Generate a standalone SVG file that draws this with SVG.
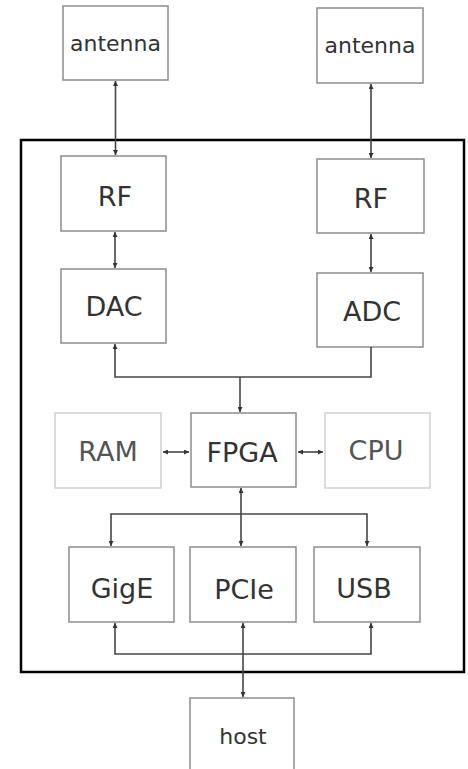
<svg xmlns="http://www.w3.org/2000/svg" width="468" height="769" viewBox="0 0 468 769">
<style>
.box{fill:#fff;stroke:#8c8c8c;stroke-width:1.5}
.lbox{fill:#fff;stroke:#cfcfcf;stroke-width:1.5}
.t{font-family:"DejaVu Sans",Verdana,sans-serif;font-size:27px;fill:#333;text-anchor:middle}
.ts{font-family:"DejaVu Sans",Verdana,sans-serif;font-size:22px;fill:#333;text-anchor:middle}
.tl{fill:#555}
.c{fill:none;stroke:#454545;stroke-width:1.6}
</style>
<defs>
<marker id="ah" viewBox="0 0 6 6" refX="6" refY="3" markerWidth="5" markerHeight="5" markerUnits="userSpaceOnUse" orient="auto-start-reverse">
<path d="M0,0 L6,3 L0,6 z" fill="#333"/>
</marker>
</defs>
<rect x="21" y="140" width="443" height="532" fill="none" stroke="#000" stroke-width="2.5"/>
<g id="antenna1"><rect class="box" x="63" y="6" width="105" height="74"/><text class="ts" x="115.5" y="51">antenna</text></g>
<g id="antenna2"><rect class="box" x="317" y="8" width="106" height="75"/><text class="ts" x="370" y="53">antenna</text></g>
<g id="rf1"><rect class="box" x="61" y="156" width="105" height="75"/><text class="t" x="115" y="206">RF</text></g>
<g id="rf2"><rect class="box" x="317" y="159" width="107" height="74"/><text class="t" x="371" y="208">RF</text></g>
<g id="dac"><rect class="box" x="61" y="269" width="105" height="74"/><text class="t" x="114" y="316">DAC</text></g>
<g id="adc"><rect class="box" x="317" y="273" width="106" height="74"/><text class="t" x="372" y="321">ADC</text></g>
<g id="ram"><rect class="lbox" x="55" y="413" width="106" height="75"/><text class="t tl" x="108" y="461">RAM</text></g>
<g id="fpga"><rect class="box" x="191" y="413" width="105" height="74"/><text class="t" x="242" y="462">FPGA</text></g>
<g id="cpu"><rect class="lbox" x="325" y="413" width="105" height="75"/><text class="t tl" x="376" y="460">CPU</text></g>
<g id="gige"><rect class="box" x="69" y="547" width="105" height="75"/><text class="t" x="122" y="598">GigE</text></g>
<g id="pcie"><rect class="box" x="190" y="547" width="106" height="75"/><text class="t" x="244" y="599">PCIe</text></g>
<g id="usb"><rect class="box" x="314" y="547" width="106" height="75"/><text class="t" x="364" y="598">USB</text></g>
<g id="host"><rect class="box" x="190" y="698" width="104" height="80"/><text class="ts" x="243" y="744">host</text></g>
<g id="connectors">
<path class="c" d="M115.5,81 V155" marker-start="url(#ah)" marker-end="url(#ah)"/>
<path class="c" d="M371,84 V158" marker-start="url(#ah)" marker-end="url(#ah)"/>
<path class="c" d="M115,232 V268" marker-start="url(#ah)" marker-end="url(#ah)"/>
<path class="c" d="M371,234 V272" marker-start="url(#ah)" marker-end="url(#ah)"/>
<path class="c" d="M371,347 V377 H115 V344" marker-end="url(#ah)"/>
<path class="c" d="M240,377 V412" marker-end="url(#ah)"/>
<path class="c" d="M163,452 H189" marker-start="url(#ah)" marker-end="url(#ah)"/>
<path class="c" d="M298,452 H323" marker-start="url(#ah)" marker-end="url(#ah)"/>
<path class="c" d="M241,514 V488" marker-end="url(#ah)"/>
<path class="c" d="M111,546 V514 H367 V546" marker-start="url(#ah)" marker-end="url(#ah)"/>
<path class="c" d="M241,514 V546" marker-end="url(#ah)"/>
<path class="c" d="M115,623 V654 H371 V623" marker-start="url(#ah)" marker-end="url(#ah)"/>
<path class="c" d="M243,623 V697" marker-start="url(#ah)" marker-end="url(#ah)"/>
</g>
</svg>
